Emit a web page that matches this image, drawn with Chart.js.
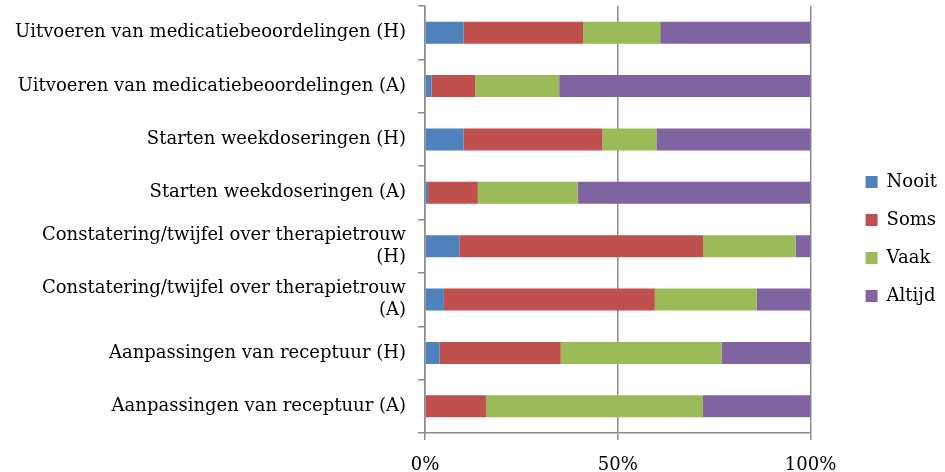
<!DOCTYPE html>
<html>
<head>
<meta charset="utf-8">
<script src="https://cdn.jsdelivr.net/npm/chart.js@4/dist/chart.umd.min.js"></script>
<style>
  html, body { margin: 0; padding: 0; background: #fff; }
  #wrap { width: 945px; height: 472px; }
</style>
</head>
<body>
<div id="wrap"><canvas id="graphik"></canvas></div>
<script>
const categories = [
    "Uitvoeren van medicatiebeoordelingen (H)",
    "Uitvoeren van medicatiebeoordelingen (A)",
    "Starten weekdoseringen (H)",
    "Starten weekdoseringen (A)",
    ["Constatering/twijfel over therapietrouw", "(H)"],
    ["Constatering/twijfel over therapietrouw", "(A)"],
    "Aanpassingen van receptuur (H)",
    "Aanpassingen van receptuur (A)"
];
const dataNooit  = [10.0, 1.7, 10.0, 0.8, 8.9, 4.9, 3.8, 0.0];
const dataSoms   = [31.0, 11.3, 36.0, 12.9, 63.2, 54.7, 31.4, 15.8];
const dataVaak   = [20.0, 21.8, 14.0, 25.9, 24.0, 26.4, 41.7, 56.3];
const dataAltijd = [39.0, 65.2, 40.0, 60.4, 3.9, 14.0, 23.1, 27.9];
const xTicks = [0, 50, 100];

const serif = "'DejaVu Serif', serif";
const gridGray = '#8c8c8c';

// legend sits a bit away from the plot, like the original
const legendGap = {
    id: 'legendGap',
    afterLayout(chart) {
        const lg = chart.legend;
        const dx = chart.chartArea.right + 35 - lg.left;
        lg.left += dx;
        lg.right += dx;
    }
};

var ctx = document.getElementById("graphik");
var graphik = new Chart(ctx, {
    type: 'bar',
    data: {
        labels: categories,
        datasets: [{
            label: "Nooit",
            data: dataNooit,
            backgroundColor: '#4f81bd'
        }, {
            label: "Soms",
            data: dataSoms,
            backgroundColor: '#c0504d'
        }, {
            label: "Vaak",
            data: dataVaak,
            backgroundColor: '#9bbb59'
        }, {
            label: "Altijd",
            data: dataAltijd,
            backgroundColor: '#8064a2'
        }]
    },
    options: {
        indexAxis: 'y',
        responsive: true,
        maintainAspectRatio: false,
        animation: false,
        barPercentage: 0.41,
        categoryPercentage: 1,
        layout: { padding: { top: 6, left: 5, right: 33, bottom: 0 } },
        scales: {
            x: {
                stacked: true,
                min: 0,
                max: 100,
                afterBuildTicks: scale => { scale.ticks = xTicks.map(v => ({ value: v })); },
                afterFit: scale => { scale.height = 39; },
                ticks: {
                    callback: v => v + '%',
                    color: '#000',
                    font: { family: serif, size: 18 },
                    padding: 15
                },
                grid: { color: gridGray, lineWidth: 1.5, tickLength: 7 },
                border: { color: gridGray, width: 1.5 }
            },
            y: {
                stacked: true,
                afterFit: scale => {
                    scale.width = 420;
                    scale.paddingTop = 0;
                    scale.paddingBottom = 0;
                },
                ticks: {
                    color: '#000',
                    font: { family: serif, size: 18, lineHeight: 1.25 },
                    padding: 12
                },
                grid: { offset: true, drawOnChartArea: false, color: gridGray, lineWidth: 1.5, tickLength: 7 },
                border: { color: gridGray, width: 1.5 }
            }
        },
        plugins: {
            legend: {
                position: 'right',
                labels: {
                    boxWidth: 12,
                    boxHeight: 12,
                    padding: 20,
                    color: '#000',
                    font: { family: serif, size: 18 }
                }
            },
            tooltip: { enabled: false }
        }
    },
    plugins: [legendGap]
});
</script>
</body>
</html>
